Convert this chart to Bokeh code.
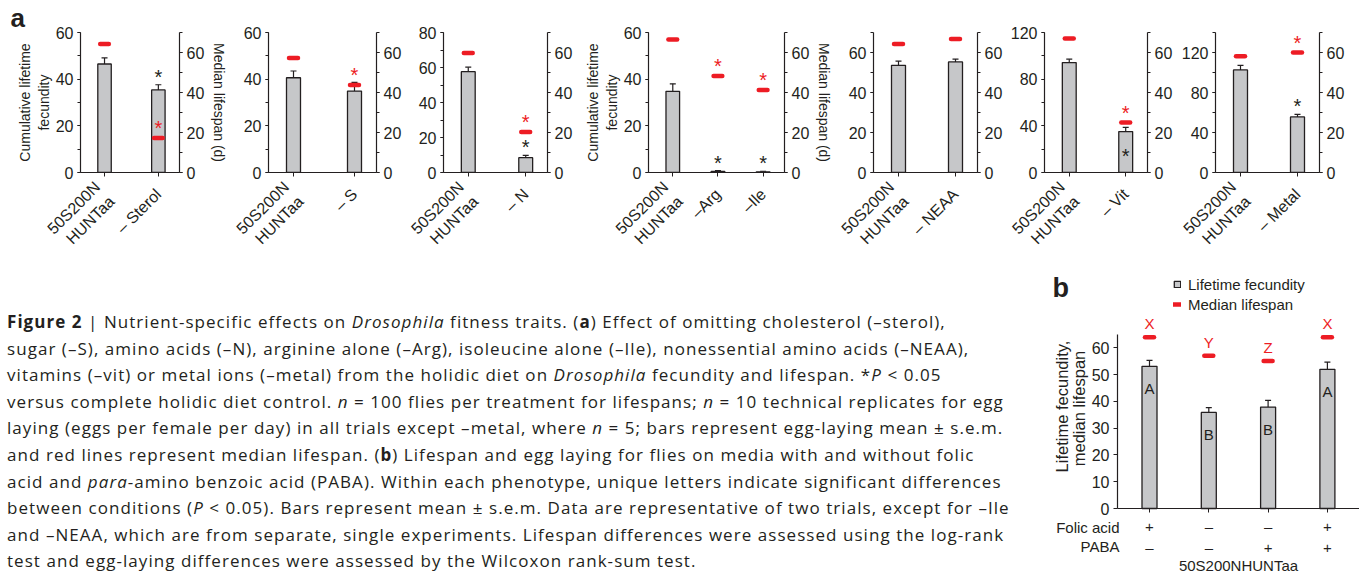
from math import pi
from bokeh.plotting import figure
from bokeh.models import (Range1d, LinearAxis, FixedTicker, Whisker, TeeHead, ColumnDataSource,
                          Legend, LegendItem, Div, Title)
from bokeh.layouts import row, column
from bokeh.embed import file_html
from bokeh.resources import INLINE
from bokeh.core.properties import value

# ------------------------------------------------------------------ data
# panel a : complete diet (control) versus omission diets
control_label = "50S200N\nHUNTaa"
a_treatments = [["– Sterol"], ["– S"], ["– N"], ["–Arg", "–Ile"], ["– NEAA"], ["– Vit"], ["– Metal"]]
a_fecundity = [[46.5, 35.4], [40.6, 34.9], [57.6, 8.5], [34.8, 0.5, 0.3],
               [53.6, 55.3], [94.2, 35.1], [102.6, 55.6]]
a_fecundity_sem = [[2.6, 2.2], [2.9, 3.7], [2.6, 1.3], [3.2, 0.3, 0.2],
                   [2.1, 1.4], [2.9, 3.6], [4.5, 2.5]]
a_lifespan = [[64.2, 17.2], [57.3, 43.7], [59.7, 20.2], [66.5, 48.2, 41.3],
              [64.3, 66.8], [67.0, 25.0], [58.1, 60.0]]
a_fec_sig = [[0, 1], [0, 0], [0, 1], [0, 1, 1], [0, 0], [0, 1], [0, 1]]
a_life_sig = [[0, 1], [0, 1], [0, 1], [0, 1, 1], [0, 0], [0, 1], [0, 1]]
a_fec_axis_max = [60, 60, 80, 60, 70, 120, 140]
a_fec_axis_step = [20, 20, 20, 20, 20, 40, 40]
lifespan_axis_max = 70

# panel b : folic acid / PABA
b_folic = ["+", "–", "–", "+"]
b_paba = ["–", "–", "+", "+"]
b_fecundity = [53.1, 35.9, 37.9, 52.0]
b_fecundity_sem = [2.2, 1.8, 2.5, 2.7]
b_lifespan = [64.0, 57.1, 55.1, 64.0]
b_fec_letters = ["A", "B", "B", "A"]
b_life_letters = ["X", "Y", "Z", "X"]
b_axis_max = 65

caption_lines = [
    "<b>Figure 2</b> | Nutrient-specific effects on <i>Drosophila</i> fitness traits. (<b>a</b>) Effect of omitting cholesterol (–sterol),",
    "sugar (–S), amino acids (–N), arginine alone (–Arg), isoleucine alone (–Ile), nonessential amino acids (–NEAA),",
    "vitamins (–vit) or metal ions (–metal) from the holidic diet on <i>Drosophila</i> fecundity and lifespan. *<i>P</i> &lt; 0.05",
    "versus complete holidic diet control. <i>n</i> = 100 flies per treatment for lifespans; <i>n</i> = 10 technical replicates for egg",
    "laying (eggs per female per day) in all trials except –metal, where <i>n</i> = 5; bars represent egg-laying mean ± s.e.m.",
    "and red lines represent median lifespan. (<b>b</b>) Lifespan and egg laying for flies on media with and without folic",
    "acid and <i>para</i>-amino benzoic acid (PABA). Within each phenotype, unique letters indicate significant differences",
    "between conditions (<i>P</i> &lt; 0.05). Bars represent mean ± s.e.m. Data are representative of two trials, except for –Ile",
    "and –NEAA, which are from separate, single experiments. Lifespan differences were assessed using the log-rank",
    "test and egg-laying differences were assessed by the Wilcoxon rank-sum test.",
]

# ------------------------------------------------------------------ style
FONT = "Liberation Sans"
INK = "#231f20"
BAR_FILL = "#c6c7c9"
RED = "#ed1c24"
TICK_FS = "16px"

# (figure width, left border, frame width) of the seven small plots
a_geom = [(230, 80, 103), (175, 38, 108), (170, 38, 105), (260, 73, 140),
          (170, 38, 104), (170, 39, 104), (184, 40, 104)]
ROW1_H, TOP, FRAME_H = 268, 32, 140
BAR_PX, DASH_HALF_PX = 14, 4.5


def style_axis(ax, fs=TICK_FS):
    ax.axis_line_color = INK
    ax.axis_line_width = 1.2
    ax.major_tick_line_color = INK
    ax.minor_tick_line_color = INK
    ax.major_tick_out = 3
    ax.major_tick_in = 0
    ax.minor_tick_out = 3
    ax.minor_tick_in = 0
    ax.major_label_text_font = FONT
    ax.major_label_text_font_size = fs
    ax.major_label_text_color = INK
    ax.major_label_standoff = 4
    ax.axis_label_text_font = FONT
    ax.axis_label_text_font_size = "14px"
    ax.axis_label_text_font_style = "normal"
    ax.axis_label_text_color = INK
    ax.axis_label_text_line_height = 1.15


def base_fig(**kw):
    p = figure(output_backend="svg", toolbar_location=None, title=None, **kw)
    p.outline_line_color = None
    p.grid.visible = False
    return p


def make_a(i):
    W, bl, fw = a_geom[i]
    br = W - bl - fw
    names = [control_label] + a_treatments[i]
    n = len(names)
    xs = list(range(1, n + 1))
    d = (fw - 47) / (n - 1)          # pixels per category
    ymax = a_fec_axis_max[i]
    p = base_fig(width=W, height=ROW1_H,
                 x_range=Range1d(1 - 25 / d, n + 22 / d), y_range=Range1d(0, ymax),
                 min_border_left=bl, min_border_right=br, min_border_top=TOP,
                 min_border_bottom=ROW1_H - TOP - FRAME_H)
    p.extra_y_ranges = {"life": Range1d(0, lifespan_axis_max)}

    fec = a_fecundity[i]
    sem = a_fecundity_sem[i]
    life = a_lifespan[i]
    p.vbar(x=xs, top=fec, width=BAR_PX / d, fill_color=BAR_FILL, line_color=INK, line_width=1.3)
    src = ColumnDataSource(dict(x=xs, upper=[f + s for f, s in zip(fec, sem)],
                                lower=[f - s for f, s in zip(fec, sem)]))
    p.add_layout(Whisker(source=src, base="x", upper="upper", lower="lower",
                         line_color=INK, line_width=1.2,
                         upper_head=TeeHead(size=6, line_color=INK, line_width=1.2),
                         lower_head=TeeHead(size=6, line_color=INK, line_width=1.2)))
    p.segment(x0=[x - DASH_HALF_PX / d for x in xs], x1=[x + DASH_HALF_PX / d for x in xs],
              y0=life, y1=life, y_range_name="life", line_color=RED, line_width=4.5,
              line_cap="round")

    # significance stars
    px_per_fec = FRAME_H / ymax
    px_per_life = FRAME_H / lifespan_axis_max
    bx_, by_, boff = [], [], []
    rx, ry = [], []
    for k in range(n):
        top_px = (fec[k] + sem[k]) * px_per_fec
        red_px = life[k] * px_per_life
        if a_fec_sig[i][k]:
            bx_.append(xs[k])
            if 0 < red_px - top_px < 20:      # no room above the bar: star inside it
                by_.append(fec[k] / 2)
                boff.append(4)
            else:
                by_.append(fec[k] + sem[k])
                boff.append(-8)
        if a_life_sig[i][k]:
            rx.append(xs[k])
            ry.append(life[k])
    if bx_:
        p.text(x=bx_, y=by_, y_offset=boff, text=["*"] * len(bx_), text_font=value(FONT),
               text_font_size="20px", text_align="center", text_baseline="middle",
               text_color=INK)
    if rx:
        p.text(x=rx, y=ry, y_offset=-10, text=["*"] * len(rx), text_font=value(FONT),
               text_font_size="20px", text_align="center", text_baseline="middle",
               text_color=RED, y_range_name="life")

    # axes
    step = a_fec_axis_step[i]
    ax = p.yaxis[0]
    ax.ticker = FixedTicker(ticks=list(range(0, ymax + 1, step)),
                            minor_ticks=list(range(0, ymax + 1, step // 2)))
    style_axis(ax)
    rax = LinearAxis(y_range_name="life",
                     ticker=FixedTicker(ticks=[0, 20, 40, 60], minor_ticks=list(range(0, 71, 10))))
    style_axis(rax)
    p.add_layout(rax, "right")
    xa = p.xaxis[0]
    xa.ticker = FixedTicker(ticks=xs, minor_ticks=[])
    xa.major_label_overrides = {x: lab for x, lab in zip(xs, names)}
    style_axis(xa)
    xa.major_tick_out = 4
    xa.major_label_orientation = pi / 4
    xa.major_label_standoff = 15
    if i in (0, 3):
        ax.axis_label = "Cumulative lifetime\nfecundity"
        ax.axis_label_standoff = 1
        rax.axis_label = "Median lifespan (d)"
        rax.axis_label_standoff = 4
    if i == 0:
        p.add_layout(Title(text="a", align="left", offset=-70, standoff=0,
                           text_font=FONT, text_font_style="bold", text_font_size="26px",
                           text_color=INK), "above")
    return p


a_figs = [make_a(i) for i in range(len(a_treatments))]

# ------------------------------------------------------------------ panel b (one figure)
BW, BH = 319, 573 - 268
d = 59.3                       # pixels per condition
ppu = 174 / b_axis_max         # pixels per unit
FIRST_PX, AXIS_PX, ZERO_PX = 109, 77, 240
xs = list(range(1, len(b_fecundity) + 1))
xstart = 1 - FIRST_PX / d


def bx(px):                    # horizontal pixel in panel b -> data x
    return xstart + px / d


def by(py):                    # vertical pixel (from top) in panel b -> data y
    return (ZERO_PX - py) / ppu


pb = base_fig(width=BW, height=BH, x_range=Range1d(bx(0), bx(BW)),
              y_range=Range1d(by(BH), by(0)), min_border=0)
bars = pb.vbar(x=xs, top=b_fecundity, width=15 / d, fill_color=BAR_FILL, line_color=INK,
               line_width=1.3)
bsrc = ColumnDataSource(dict(x=xs, upper=[f + s for f, s in zip(b_fecundity, b_fecundity_sem)],
                             lower=[f - s for f, s in zip(b_fecundity, b_fecundity_sem)]))
pb.add_layout(Whisker(source=bsrc, base="x", upper="upper", lower="lower",
                      line_color=INK, line_width=1.2,
                      upper_head=TeeHead(size=6, line_color=INK, line_width=1.2),
                      lower_head=TeeHead(size=6, line_color=INK, line_width=1.2)))
dash = pb.segment(x0=[x - DASH_HALF_PX / d for x in xs], x1=[x + DASH_HALF_PX / d for x in xs],
                  y0=b_lifespan, y1=b_lifespan, line_color=RED, line_width=4.5,
                  line_cap="round")
pb.text(x=xs, y=b_lifespan, y_offset=-13.5, text=b_life_letters, text_font=value(FONT),
        text_font_size="15px", text_align="center", text_baseline="middle", text_color=RED)
pb.text(x=xs, y=b_fecundity, y_offset=22, text=b_fec_letters, text_font=value(FONT),
        text_font_size="15px", text_align="center", text_baseline="middle", text_color=INK)

yb = pb.yaxis[0]
yb.ticker = FixedTicker(ticks=list(range(0, 61, 10)), minor_ticks=[])
yb.fixed_location = bx(AXIS_PX)
yb.bounds = (0, b_axis_max)
style_axis(yb)
yb.major_tick_out = 4
xb = pb.xaxis[0]
xb.ticker = FixedTicker(ticks=xs, minor_ticks=[])
xb.major_label_overrides = {x: f"{fa}\n{pa}" for x, fa, pa in zip(xs, b_folic, b_paba)}
xb.fixed_location = 0
xb.bounds = (bx(AXIS_PX), bx(BW))
style_axis(xb, "15px")
xb.major_tick_out = 4
xb.major_label_standoff = 5
xb.major_label_text_line_height = 1.27

txt = dict(text_font=value(FONT), text_color=INK, text_baseline="middle")
pb.text(x=[bx(12)], y=[by(19.6)], text=["b"], text_font_style="bold", text_font_size="27px",
        text_align="left", **txt)
pb.text(x=[bx(21), bx(38)], y=[by(138), by(140)], text=["Lifetime fecundity,", "median lifespan"],
        angle=pi / 2, text_font_size="16.5px", text_align="center", **txt)
pb.text(x=[bx(79)] * 2, y=[by(259), by(278)], text=["Folic acid", "PABA"],
        text_font_size="15px", text_align="right", **txt)
pb.text(x=[bx(198)], y=[by(297)], text=["50S200NHUNTaa"], text_font_size="15px",
        text_align="center", **txt)
pb.add_layout(Legend(items=[LegendItem(label="Lifetime fecundity", renderers=[bars]),
                            LegendItem(label="Median lifespan", renderers=[dash])],
                     location=(133, BH - 44.5), border_line_color=None, background_fill_alpha=0,
                     padding=0, margin=0, spacing=3, label_height=17, glyph_height=8,
                     glyph_width=8, label_standoff=7, label_text_font=FONT,
                     label_text_font_size="15px", label_text_color=INK))

# ------------------------------------------------------------------ caption
caption = Div(
    text=('<div style="font-family:\'Open Sans\'; font-size:17px; letter-spacing:1.05px; '
          'line-height:26.6px; color:#231f20; white-space:nowrap; padding:41px 0 0 7px;">'
          + "<br>".join(caption_lines) + "</div>"),
    width=1359 - BW, height=BH, margin=0)

layout = column(row(*a_figs), row(caption, pb))
open("out.html", "w").write(file_html(layout, INLINE))
